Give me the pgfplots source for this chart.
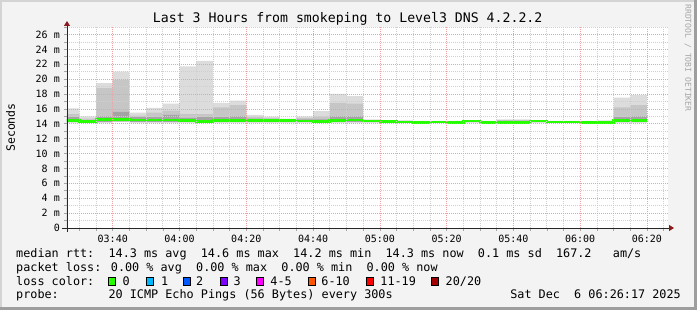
\documentclass[border=0pt]{standalone}
\usepackage{pgfplots}
\pgfplotsset{compat=1.18}
\usepackage{pgfplotstable}
\usepackage{fontspec}
\setmainfont{DejaVu Sans Mono}
\usetikzlibrary{arrows.meta}
\definecolor{bgc}{HTML}{F3F3F3}
\definecolor{shadea}{HTML}{D4D4D4}
\definecolor{shadeb}{HTML}{9E9E9E}
\definecolor{mgrid}{HTML}{F0A0A0}
\definecolor{ngrid}{HTML}{CFCFCF}
\definecolor{arrowc}{HTML}{8B1A1A}
\definecolor{smokeA}{HTML}{DCDCDC}
\definecolor{smokeB}{HTML}{C6C6C6}
\definecolor{smokeC}{HTML}{A4A4A4}
\definecolor{lc0}{HTML}{26FF00}
\definecolor{lc1}{HTML}{00B8FF}
\definecolor{lc2}{HTML}{0059FF}
\definecolor{lc3}{HTML}{7E00FF}
\definecolor{lc4}{HTML}{FF00FF}
\definecolor{lc6}{HTML}{FF5500}
\definecolor{lc11}{HTML}{FF0000}
\definecolor{lc20}{HTML}{A10000}
\newcommand\titlef{\fontsize{13.2pt}{15pt}\selectfont}
\newcommand\legf{\fontsize{11.8pt}{14pt}\selectfont}
\newcommand\axf{\fontsize{10pt}{12pt}\selectfont}
\newcommand\unitf{\fontsize{11.5pt}{13pt}\selectfont}
\newcommand\wmf{\fontsize{8.1pt}{10pt}\selectfont}
\newcommand\sw[1]{{\setlength{\fboxsep}{0pt}\setlength{\fboxrule}{0.9pt}\fcolorbox{black}{#1}{\rule{0pt}{6.2pt}\rule{6.2pt}{0pt}}}}

\pgfplotstableread{
t   lo    med    p3    p2    top
25  14.2  14.4   14.9  15.3  16.07
30  14.1  14.3   14.5  14.7  15.0
35  14.2  14.55  15.0  18.8  19.45
40  14.3  14.6   15.6  19.9  21.0
45  14.2  14.5   14.9  15.1  15.5
50  14.2  14.5   14.9  15.5  16.15
55  14.2  14.5   15.2  15.75 16.7
60  14.2  14.45  14.8  15.3  21.7
65  14.1  14.3   14.9  15.3  22.45
70  14.2  14.45  14.9  16.2  16.8
75  14.2  14.45  15.0  16.5  17.1
80  14.2  14.4   14.7  14.9  15.2
85  14.2  14.4   14.6  14.8  14.95
90  14.2  14.4   14.5  14.6  14.7
95  14.2  14.35  14.6  14.8  15.0
100 14.1  14.3   14.6  15.0  15.7
105 14.2  14.4   15.0  16.8  18.0
110 14.2  14.5   15.0  16.7  17.7
115 14.2  14.36  14.45 14.5  14.6
120 14.1  14.3   14.4  14.45 14.5
125 14.1  14.25  14.35 14.4  14.45
130 14.1  14.2   14.3  14.35 14.4
135 14.1  14.25  14.3  14.35 14.4
140 14.1  14.2   14.3  14.35 14.4
145 14.2  14.36  14.4  14.45 14.5
150 14.1  14.2   14.3  14.35 14.4
155 14.1  14.2   14.4  14.5  14.6
160 14.1  14.2   14.4  14.5  14.6
165 14.2  14.36  14.4  14.45 14.5
170 14.1  14.25  14.3  14.35 14.4
175 14.1  14.25  14.3  14.35 14.4
180 14.1  14.2   14.3  14.35 14.4
185 14.1  14.2   14.3  14.35 14.45
190 14.2  14.4   14.9  16.2  17.5
195 14.2  14.4   15.0  16.5  17.85
200 14.2  14.4   15.0  16.5  17.85
}\smoke

\begin{document}
\begin{tikzpicture}[x=1pt,y=1pt]
\useasboundingbox (0,0) rectangle (697,310);
\fill[bgc] (0,0) rectangle (697,310);
\fill[shadea] (0,0) rectangle (2,310);
\fill[shadea] (0,308) rectangle (697,310);
\fill[shadeb] (694,0) rectangle (697,310);
\fill[shadeb] (0,0) rectangle (697,3);

\begin{axis}[
  at={(67pt,82pt)}, anchor=south west,
  scale only axis, width=601pt, height=201pt,
  xmin=26.3, xmax=206.3, ymin=0, ymax=27,
  axis on top,
  axis background/.style={fill=white},
  axis lines=left,
  axis line style={draw=black!85, line width=0.8pt},
  x axis line style={-{Triangle[width=6pt,length=5pt,color=arrowc]}, shorten >=-6pt, shorten <=-5pt},
  y axis line style={-{Triangle[width=6pt,length=5pt,color=arrowc]}, shorten >=-6pt, shorten <=-4pt},
  xtick={40,60,80,100,120,140,160,180,200},
  xticklabels={03:40,04:00,04:20,04:40,05:00,05:20,05:40,06:00,06:20},
  minor xtick={30,35,...,205},
  ytick={0,2,...,26},
  yticklabels={0,2 m,4 m,6 m,8 m,10 m,12 m,14 m,16 m,18 m,20 m,22 m,24 m,26 m},
  minor ytick={1,3,...,27},
  grid=both,
  major grid style={draw=mgrid, dash pattern=on 1pt off 1pt, line width=0.7pt},
  minor grid style={draw=ngrid, dash pattern=on 1pt off 1pt, line width=0.7pt},
  tick align=outside,
  major tick length=3pt, minor tick length=3pt,
  tick style={draw=gray!70, line width=0.6pt},
  tick label style={font=\axf, text=black},
  xticklabel style={anchor=base, inner sep=0pt, yshift=-12pt},
  yticklabel style={anchor=east, inner sep=0pt, xshift=-4pt},
  clip=true,
]
\addplot[const plot, fill=smokeA, draw=none] table[x=t,y=top]{\smoke} \closedcycle;
\addplot[const plot, fill=smokeB, draw=none] table[x=t,y=p2]{\smoke} \closedcycle;
\addplot[const plot, fill=smokeC, draw=none] table[x=t,y=p3]{\smoke} \closedcycle;
\addplot[const plot, fill=white, draw=none] table[x=t,y=lo]{\smoke} \closedcycle;
\addplot[const plot, draw=lc0, line width=2.6pt, on layer=axis foreground] table[x=t,y=med]{\smoke};
\end{axis}

\node[anchor=base, inner sep=0pt, font=\titlef] at (347.7,287) {Last 3 Hours from smokeping to Level3 DNS 4.2.2.2};
\node[rotate=90, inner sep=0pt, font=\unitf] at (10.5,182.5) {Seconds};
\node[rotate=-90, inner sep=0pt, font=\wmf, text=black!35] at (688,252) {RRDTOOL / TOBI OETIKER};

\node[anchor=base west, inner sep=0pt, font=\legf] at (16,52) {median rtt:~~14.3 ms avg~~14.6 ms max~~14.2 ms min~~14.3 ms now~~0.1 ms sd~~167.2~~~am/s};
\node[anchor=base west, inner sep=0pt, font=\legf] at (16,38.3) {packet loss: 0.00 \% avg~~0.00 \% max~~0.00 \% min~~0.00 \% now};
\node[anchor=base west, inner sep=0pt, font=\legf] at (16,24.3) {loss color:};
\node[anchor=south west, inner sep=0pt] at (108,24.3) {\sw{lc0}};
\node[anchor=base west, inner sep=0pt, font=\legf] at (122.5,24.3) {0};
\node[anchor=south west, inner sep=0pt] at (145.5,24.3) {\sw{lc1}};
\node[anchor=base west, inner sep=0pt, font=\legf] at (161,24.3) {1};
\node[anchor=south west, inner sep=0pt] at (182.5,24.3) {\sw{lc2}};
\node[anchor=base west, inner sep=0pt, font=\legf] at (196,24.3) {2};
\node[anchor=south west, inner sep=0pt] at (219.3,24.3) {\sw{lc3}};
\node[anchor=base west, inner sep=0pt, font=\legf] at (233.5,24.3) {3};
\node[anchor=south west, inner sep=0pt] at (256,24.3) {\sw{lc4}};
\node[anchor=base west, inner sep=0pt, font=\legf] at (270.2,24.3) {4-5};
\node[anchor=south west, inner sep=0pt] at (307.7,24.3) {\sw{lc6}};
\node[anchor=base west, inner sep=0pt, font=\legf] at (321.2,24.3) {6-10};
\node[anchor=south west, inner sep=0pt] at (365.7,24.3) {\sw{lc11}};
\node[anchor=base west, inner sep=0pt, font=\legf] at (380.2,24.3) {11-19};
\node[anchor=south west, inner sep=0pt] at (431,24.3) {\sw{lc20}};
\node[anchor=base west, inner sep=0pt, font=\legf] at (445.5,24.3) {20/20};
\node[anchor=base west, inner sep=0pt, font=\legf] at (16,11) {probe:~~~~~~~20 ICMP Echo Pings (56 Bytes) every 300s};
\node[anchor=base east, inner sep=0pt, font=\legf] at (681,11) {Sat Dec~~6 06:26:17 2025};
\end{tikzpicture}
\end{document}
